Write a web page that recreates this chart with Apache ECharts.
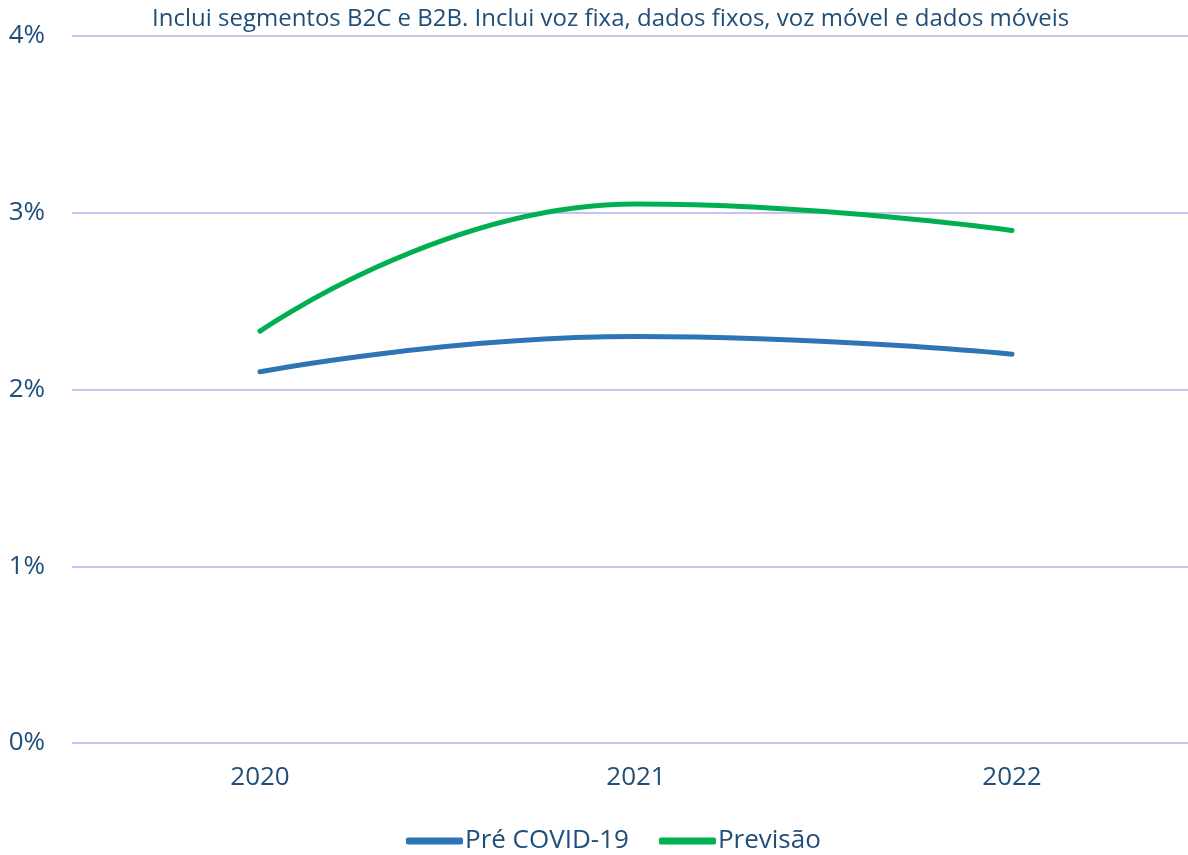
<!DOCTYPE html>
<html>
<head>
<meta charset="utf-8">
<script src="https://cdn.jsdelivr.net/npm/echarts@6/dist/echarts.min.js"></script>
<style>
  html, body { margin: 0; padding: 0; background: #fff; overflow: hidden; }
  #chart { width: 1200px; height: 855px; }
</style>
</head>
<body>
<div id="chart"></div>
<script>
// dados
var years = ['2020', '2021', '2022'];
var preCovid = [2.1, 2.3, 2.2];   // Pré COVID-19
var previsao = [2.33, 3.05, 2.9]; // Previsão
var yTicks = [0, 1, 2, 3, 4];

var textColor = '#1F4E79';
// o quadro vai ate 1200px; a janela corta em 1188
var chart = echarts.init(document.getElementById('chart'));

var option = {
    textStyle: { fontFamily: '"Open Sans", "Noto Sans", sans-serif' },
    title: {
        text: 'Inclui segmentos B2C e B2B. Inclui voz fixa, dados fixos, voz móvel e dados móveis',
        left: 147,
        top: 2,
        textStyle: { color: textColor, fontSize: 24, fontWeight: 'normal', fontFamily: '"Open Sans", sans-serif' }
    },
    legend: {
        bottom: -4,
        left: 401,
        itemWidth: 57,
        itemHeight: 7,
        itemGap: 30,
        icon: 'roundRect',
        textStyle: { color: textColor, fontSize: 26, padding: [0, 0, 0, -3] },
        data: ['Pré COVID-19', 'Previsão']
    },
    grid: {
        left: 72,
        right: 0,
        top: 36,
        bottom: 112
    },
    xAxis: {
        type: 'category',
        data: years,
        axisLine: { show: false },
        axisTick: { show: false },
        axisLabel: { color: textColor, fontSize: 26, margin: 22 }
    },
    yAxis: {
        type: 'value',
        min: yTicks[0],
        max: yTicks[yTicks.length - 1],
        interval: 1,
        axisLabel: {
            color: textColor, fontSize: 26, margin: 27,
            formatter: '{value}%'
        },
        splitLine: { lineStyle: { color: '#C4C4F0', width: 2 } }
    },
    series: [
        {
            name: 'Pré COVID-19',
            type: 'line',
            smooth: 0.5,
            symbol: 'none',
            data: preCovid,
            itemStyle: { color: '#2E75B6' },
            lineStyle: { color: '#2E75B6', width: 5, cap: 'round' }
        },
        {
            name: 'Previsão',
            type: 'line',
            smooth: 0.5,
            symbol: 'none',
            data: previsao,
            itemStyle: { color: '#00B050' },
            lineStyle: { color: '#00B050', width: 5, cap: 'round' }
        }
    ]
};

chart.setOption(option);
</script>
</body>
</html>
